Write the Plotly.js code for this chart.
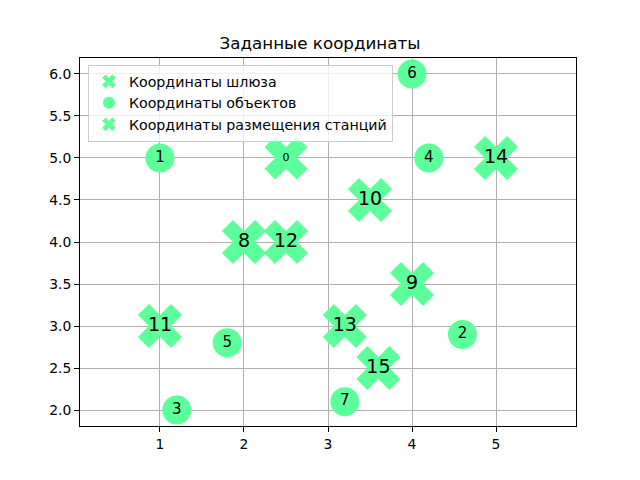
<!DOCTYPE html>
<html><head><meta charset="utf-8">
<script src="https://cdn.plot.ly/plotly-3.0.1.min.js"></script>
<style>body{margin:0;}#plot{width:640px;height:480px;}</style>
</head><body><div id="plot"></div>
<script>
const gatewayX = [2.5];
const gatewayY = [5.0];
const gatewayLabels = ['0'];

const objectX = [1.0, 4.6, 1.2, 4.2, 1.8, 4.0, 3.2];
const objectY = [5.0, 2.9, 2.0, 5.0, 2.8, 6.0, 2.1];
const objectLabels = ['1', '2', '3', '4', '5', '6', '7'];

const stationX = [2.0, 4.0, 3.5, 1.0, 2.5, 3.2, 5.0, 3.6];
const stationY = [4.0, 3.5, 4.5, 3.0, 4.0, 3.0, 5.0, 2.5];
const stationLabels = ['8', '9', '10', '11', '12', '13', '14', '15'];

const col = '#5cff9a';
const font = 'DejaVu Sans, sans-serif';

const traces = [
  {x: gatewayX, y: gatewayY, text: gatewayLabels, mode: 'markers+text', type: 'scatter',
   name: 'Координаты шлюза', marker: {symbol: 'x', size: 38, color: col},
   textposition: 'middle center', textfont: {family: font, size: 11, color: 'black'}},
  {x: objectX, y: objectY, text: objectLabels, mode: 'markers+text', type: 'scatter',
   name: 'Координаты объектов', marker: {symbol: 'circle', size: 29, color: col},
   textposition: 'middle center', textfont: {family: font, size: 15, color: 'black'}},
  {x: stationX, y: stationY, text: stationLabels, mode: 'markers+text', type: 'scatter',
   name: 'Координаты размещения станций', marker: {symbol: 'x', size: 39, color: col},
   textposition: 'middle center', textfont: {family: font, size: 19, color: 'black'}}
];

const axisCommon = {
  showline: true, linecolor: 'black', linewidth: 1, mirror: true,
  ticks: 'outside', ticklen: 5, tickcolor: 'black',
  showgrid: true, gridcolor: '#b0b0b0', gridwidth: 1, zeroline: false,
  tickfont: {family: font, size: 13.9, color: 'black'}
};

const layout = {
  width: 640, height: 480,
  margin: {l: 80, r: 64, t: 58, b: 54},
  paper_bgcolor: 'white', plot_bgcolor: 'white',
  title: {text: 'Заданные координаты', font: {family: font, size: 16.7, color: 'black'},
          x: 0.5, xanchor: 'center', y: 1 - 43/480, yanchor: 'middle'},
  xaxis: Object.assign({}, axisCommon, {range: [0.048, 5.952], tickvals: [1, 2, 3, 4, 5], ticktext: ['1','2','3','4','5']}),
  yaxis: Object.assign({}, axisCommon, {range: [1.81, 6.19], tickvals: [2,2.5,3,3.5,4,4.5,5,5.5,6], ticktext: ['2.0','2.5','3.0','3.5','4.0','4.5','5.0','5.5','6.0']}),
  showlegend: true,
  legend: {x: 0.016, y: 0.982, xanchor: 'left', yanchor: 'top',
           bgcolor: 'rgba(255,255,255,0.8)', bordercolor: '#cccccc', borderwidth: 1,
           font: {family: font, size: 14.2, color: 'black'}, itemsizing: 'constant', itemwidth: 30,
           tracegroupgap: 0}
};

Plotly.newPlot('plot', traces, layout, {displayModeBar: false});
</script>
</body></html>
